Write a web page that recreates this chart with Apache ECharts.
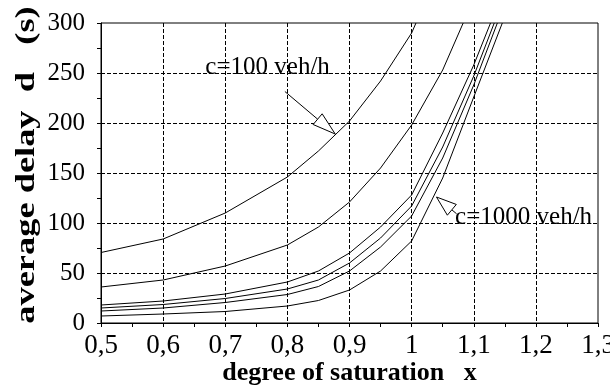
<!DOCTYPE html>
<html>
<head>
<meta charset="utf-8">
<script src="https://cdn.jsdelivr.net/npm/echarts@6/dist/echarts.min.js"></script>
<style>
html,body{margin:0;padding:0;background:#fff;}
#chart{width:610px;height:385px;}
</style>
</head>
<body>
<div id="chart"></div>
<script>
// Data: [degree of saturation x, average delay d (s)]
const curveC100 = [[0.5,70.5],[0.6,84],[0.7,110],[0.8,146],[0.85,172],[0.9,202],[0.95,242],[1.0,290],[1.007,300]];
const curve2 = [[0.5,36],[0.6,43],[0.7,57],[0.8,78],[0.85,96],[0.9,121],[0.95,155],[1.0,198],[1.05,253],[1.083,300]];
const curve3 = [[0.5,18],[0.6,22],[0.7,29],[0.8,41],[0.85,52],[0.9,70],[0.95,96],[1.0,128],[1.05,190],[1.1,258],[1.127,300]];
const curve4 = [[0.5,15],[0.6,18.5],[0.7,24.5],[0.8,34],[0.85,43],[0.9,60],[0.95,85],[1.0,117],[1.05,176],[1.1,247],[1.133,300]];
const curve5 = [[0.5,12],[0.6,15],[0.7,20.5],[0.8,28.5],[0.85,36.5],[0.9,52],[0.95,76],[1.0,107],[1.05,165],[1.1,238],[1.138,300]];
const curveC1000 = [[0.5,7],[0.6,9],[0.7,11.5],[0.8,17],[0.85,22.5],[0.9,33],[0.95,52],[1.0,82],[1.05,145],[1.1,226],[1.146,300]];

const xTickLabels = ['0,5','0,6','0,7','0,8','0,9','1','1,1','1,2','1,3'];
const yTickLabels = ['0','50','100','150','200','250','300'];

const xTitle = 'degree of saturation   x';
const yTitle = 'average delay  d   (s)';

// annotation anchors in data space
const label100 = {text:'c=100 veh/h', at:[0.668,256]};
const label1000 = {text:'c=1000 veh/h', at:[1.070,106]};
const arrow100 = {tail:[0.796,231.5], tip:[0.877,189]};
const arrow1000 = {tail:[1.0724,109.2], tip:[1.040,126]};

const SERIF = '"Liberation Serif","Times New Roman",serif';
const chart = echarts.init(document.getElementById('chart'), null, {renderer:'canvas'});

function lineSeries(data){
  return {type:'line', data:data, showSymbol:false, symbol:'none', clip:true,
    lineStyle:{color:'#000', width:1}, z:3, silent:true};
}

const option = {
  animation:false,
  backgroundColor:'#fff',
  grid:{left:101, right:12, top:23, bottom:62, show:true, borderColor:'#000', borderWidth:1,
    backgroundColor:'transparent', containLabel:false, outerBoundsMode:'none'},
  xAxis:{
    type:'value', min:0.5, max:1.3, interval:0.1,
    axisLine:{show:true, onZero:false, lineStyle:{color:'#000', width:1}},
    axisTick:{show:true, length:4, lineStyle:{color:'#000'}},
    minorTick:{show:true, splitNumber:2, length:4, lineStyle:{color:'#000'}},
    splitLine:{show:true, showMinLine:false, showMaxLine:false, lineStyle:{color:'#000', type:[4,2], width:1}},
    axisLabel:{color:'#000', fontFamily:SERIF, fontSize:27, margin:9,
      formatter:function(v){return xTickLabels[Math.round((v-0.5)/0.1)];}},
    name:xTitle, nameLocation:'middle', nameGap:37, nameMoveOverlap:false,
    nameTextStyle:{color:'#000', fontFamily:SERIF, fontSize:26, fontWeight:'bold'}
  },
  yAxis:{
    type:'value', min:0, max:300, interval:50,
    axisLine:{show:true, lineStyle:{color:'#000', width:1}},
    axisTick:{show:true, length:4, lineStyle:{color:'#000'}},
    minorTick:{show:true, splitNumber:2, length:4, lineStyle:{color:'#000'}},
    splitLine:{show:true, showMinLine:false, showMaxLine:false, lineStyle:{color:'#000', type:[4,2], width:1}},
    axisLabel:{color:'#000', fontFamily:SERIF, fontSize:25, margin:16,
      formatter:function(v){return yTickLabels[Math.round(v/50)];}}
  },
  series:[lineSeries(curveC100), lineSeries(curve2), lineSeries(curve3), lineSeries(curve4), lineSeries(curve5), lineSeries(curveC1000)]
};
chart.setOption(option);

function px(p){return chart.convertToPixel({gridIndex:0}, p);}
function arrowGraphics(a, headLen, halfW){
  const t = px(a.tail), h = px(a.tip);
  const dx = h[0]-t[0], dy = h[1]-t[1];
  const L = Math.sqrt(dx*dx+dy*dy);
  const ux = dx/L, uy = dy/L;
  const bx = h[0]-ux*headLen, by = h[1]-uy*headLen;
  const nx = -uy, ny = ux;
  return [
    {type:'line', shape:{x1:t[0], y1:t[1], x2:bx, y2:by}, style:{stroke:'#000', lineWidth:1}, z:10},
    {type:'polygon', shape:{points:[[h[0],h[1]],[bx+nx*halfW, by+ny*halfW],[bx-nx*halfW, by-ny*halfW]]},
      style:{fill:'#fff', stroke:'#000', lineWidth:1}, z:10}
  ];
}
function textGraphic(l){
  const p = px(l.at);
  return {type:'text', x:p[0], y:p[1], z:11,
    style:{text:l.text, fill:'#000', font:'25px '+SERIF, textAlign:'left', textVerticalAlign:'middle', verticalAlign:'middle'}};
}
// vertical axis title, centred on the plot height
const g = chart.getModel().getComponent('grid').coordinateSystem.getRect();
const yTitleGraphic = {type:'text', x:27, y:g.y + g.height/2 - 8, rotation:Math.PI/2, scaleX:1.3, scaleY:1, z:11,
  style:{text:yTitle, fill:'#000', font:'bold 28px '+SERIF, textAlign:'center', textVerticalAlign:'middle', verticalAlign:'middle'}};

chart.setOption({graphic:[].concat(
  arrowGraphics(arrow100, 23, 7),
  arrowGraphics(arrow1000, 20, 7),
  [textGraphic(label100), textGraphic(label1000), yTitleGraphic]
)});
</script>
</body>
</html>
